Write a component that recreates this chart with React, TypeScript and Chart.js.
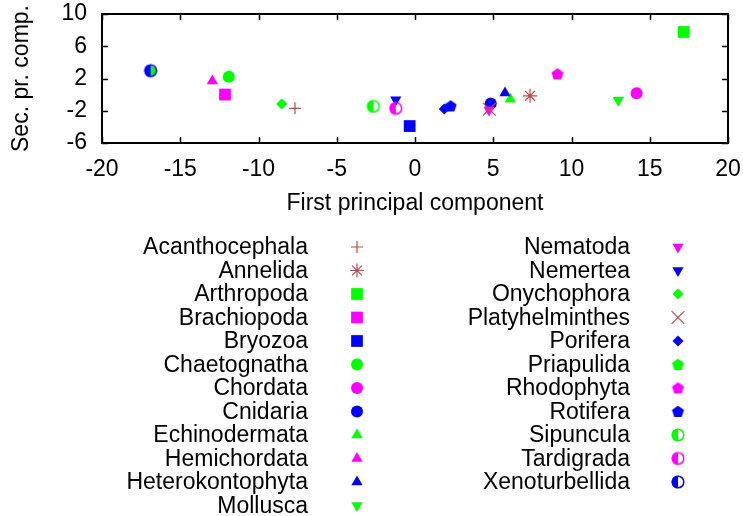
import React, { useEffect, useRef } from 'react';
import { Chart, registerables } from 'chart.js';
import { drawPoint } from 'chart.js/helpers';

Chart.register(...registerables);

const phyla = [
  'Acanthocephala', 'Annelida', 'Arthropoda', 'Brachiopoda', 'Bryozoa', 'Chaetognatha',
  'Chordata', 'Cnidaria', 'Echinodermata', 'Hemichordata', 'Heterokontophyta', 'Mollusca',
  'Nematoda', 'Nemertea', 'Onychophora', 'Platyhelminthes', 'Porifera', 'Priapulida',
  'Rhodophyta', 'Rotifera', 'Sipuncula', 'Tardigrada', 'Xenoturbellida',
];
const firstComponent = [
  -7.67, 7.35, 17.17, -12.14, -0.34, -11.9,
  14.16, 4.84, 6.09, -12.95, 5.75, 12.99,
  4.73, -1.23, -8.52, 4.75, 1.87, -16.89,
  9.1, 2.28, -2.66, -1.23, -16.89,
];
const secondComponent = [
  -1.7, -0.15, 7.77, 0.0, -3.9, 2.22,
  0.16, -1.1, -0.58, 1.69, 0.21, -0.71,
  -1.9, -0.63, -1.17, -1.82, -1.79, 2.97,
  2.56, -1.41, -1.45, -1.7, 2.97,
];
const markerColors = [
  'red', 'red', 'green', 'magenta', 'blue', 'green',
  'magenta', 'blue', 'green', 'magenta', 'blue', 'green',
  'magenta', 'blue', 'green', 'red', 'blue', 'green',
  'magenta', 'blue', 'green', 'magenta', 'blue',
];
const markerShapes = [
  'plus', 'asterisk', 'square', 'square', 'square', 'circle',
  'circle', 'circle', 'triangle', 'triangle', 'triangle', 'triangleDown',
  'triangleDown', 'triangleDown', 'diamond', 'x', 'diamond', 'pentagon',
  'pentagon', 'pentagon', 'halfCircle', 'halfCircle', 'halfCircle',
];
const xTickValues = [-20, -15, -10, -5, 0, 5, 10, 15, 20];
const yTickValues = [-6, -2, 2, 6, 10];

const PALETTE: Record<string, string> = {
  red: '#c04848',
  green: '#00ff00',
  magenta: '#ff00ff',
  blue: '#0000ff',
};
const FONT = '"Liberation Sans", Arial, sans-serif';
const FSIZE = 23;

function makePentagon(color: string, r: number) {
  const c = document.createElement('canvas');
  const s = Math.ceil(r * 2 + 2);
  c.width = s; c.height = s;
  const g = c.getContext('2d')!;
  g.fillStyle = color;
  g.beginPath();
  for (let k = 0; k < 5; k++) {
    const a = -Math.PI / 2 + (k * 2 * Math.PI) / 5;
    g.lineTo(s / 2 + r * Math.cos(a), s / 2 + 0.5 + r * Math.sin(a));
  }
  g.closePath();
  g.fill();
  return c;
}

function makeHalfCircle(color: string, r: number) {
  const c = document.createElement('canvas');
  const s = Math.ceil(r * 2 + 3);
  c.width = s; c.height = s;
  const g = c.getContext('2d')!;
  const cx = s / 2, cy = s / 2;
  g.fillStyle = color;
  g.beginPath();
  g.arc(cx, cy, r, Math.PI / 2, (3 * Math.PI) / 2);
  g.closePath();
  g.fill();
  g.beginPath();
  g.arc(cx, cy, r - 0.5, 0, Math.PI * 2);
  g.lineWidth = 1.5;
  g.strokeStyle = color;
  g.stroke();
  return c;
}

function markerStyle(shape: string, color: string) {
  switch (shape) {
    case 'plus': return { pointStyle: 'cross', radius: 6, rotation: 0, border: 1.2 };
    case 'asterisk': return { pointStyle: 'star', radius: 7, rotation: 0, border: 1.2 };
    case 'x': return { pointStyle: 'crossRot', radius: 9, rotation: 0, border: 1.2 };
    case 'square': return { pointStyle: 'rect', radius: 8.3, rotation: 0, border: 0 };
    case 'circle': return { pointStyle: 'circle', radius: 6, rotation: 0, border: 0 };
    case 'triangle': return { pointStyle: 'triangle', radius: 6.5, rotation: 0, border: 0 };
    case 'triangleDown': return { pointStyle: 'triangle', radius: 6.5, rotation: 180, border: 0 };
    case 'diamond': return { pointStyle: 'rectRot', radius: 5.5, rotation: 0, border: 0 };
    case 'pentagon': return { pointStyle: makePentagon(color, 6.3), radius: 6, rotation: 0, border: 0 };
    default: return { pointStyle: makeHalfCircle(color, 6.3), radius: 6, rotation: 0, border: 0 };
  }
}

const framePlugin = {
  id: 'gpFrame',
  beforeDatasetsDraw(chart: any) {
    const { ctx, chartArea: a, scales } = chart;
    ctx.save();
    ctx.strokeStyle = '#000';
    ctx.lineWidth = 1.5;
    const t = 6;
    ctx.beginPath();
    xTickValues.forEach((v) => {
      const px = Math.round(scales.x.getPixelForValue(v)) + 0.5;
      ctx.moveTo(px, a.bottom); ctx.lineTo(px, a.bottom - t);
      ctx.moveTo(px, a.top); ctx.lineTo(px, a.top + t);
    });
    yTickValues.forEach((v) => {
      const py = Math.round(scales.y.getPixelForValue(v)) + 0.5;
      ctx.moveTo(a.left, py); ctx.lineTo(a.left + t, py);
      ctx.moveTo(a.right, py); ctx.lineTo(a.right - t, py);
    });
    ctx.stroke();
    ctx.lineWidth = 2;
    ctx.strokeRect(a.left, a.top, a.right - a.left, a.bottom - a.top);
    ctx.restore();
  },
};

const legendPlugin = {
  id: 'gpLegend',
  afterDraw(chart: any) {
    const ctx = chart.ctx;
    ctx.save();
    chart.data.datasets.forEach((ds: any, i: number) => {
      const col = i < 12 ? 0 : 1;
      const row = i < 12 ? i : i - 12;
      const y = 247 + row * 23.5;
      const tx = col === 0 ? 308 : 630;
      const mx = col === 0 ? 357 : 678;
      ctx.font = `${FSIZE}px ${FONT}`;
      ctx.textAlign = 'right';
      ctx.textBaseline = 'middle';
      ctx.fillStyle = '#000';
      ctx.fillText(ds.label, tx, y + 1);
      ctx.fillStyle = ds.pointBackgroundColor;
      ctx.strokeStyle = ds.pointBorderColor;
      ctx.lineWidth = ds.pointBorderWidth;
      drawPoint(ctx, {
        pointStyle: ds.pointStyle,
        radius: ds.pointRadius,
        rotation: ds.pointRotation,
        borderWidth: ds.pointBorderWidth,
      } as any, mx, y);
    });
    ctx.restore();
  },
};

export default function App() {
  const ref = useRef<HTMLCanvasElement>(null);
  useEffect(() => {
    const datasets = phyla.map((name, i) => {
      const color = PALETTE[markerColors[i]];
      const m = markerStyle(markerShapes[i], color);
      const isLine = m.border > 0;
      return {
        label: name,
        data: [{ x: firstComponent[i], y: secondComponent[i] }],
        pointStyle: m.pointStyle as any,
        pointRadius: m.radius,
        pointHoverRadius: m.radius,
        pointRotation: m.rotation,
        pointBackgroundColor: isLine ? 'rgba(0,0,0,0)' : color,
        pointBorderColor: color,
        pointBorderWidth: m.border,
        order: phyla.length - i,
      };
    });
    const chart = new Chart(ref.current!, {
      type: 'scatter',
      data: { datasets },
      plugins: [framePlugin, legendPlugin],
      options: {
        responsive: false,
        animation: false,
        layout: { padding: { top: 14, right: 15, bottom: 293, left: 0 } },
        plugins: { legend: { display: false }, tooltip: { enabled: false } },
        scales: {
          x: {
            type: 'linear',
            min: -20,
            max: 20,
            afterFit: (s: any) => { s.height = 80; s.paddingLeft = 0; s.paddingRight = 0; },
            afterBuildTicks: (s: any) => { s.ticks = xTickValues.map((v) => ({ value: v })); },
            grid: { display: false, drawTicks: false },
            border: { display: false },
            ticks: { color: '#000', padding: 13, autoSkip: false, font: { family: FONT, size: FSIZE }, maxRotation: 0 },
            title: {
              display: true,
              text: 'First principal component',
              color: '#000',
              font: { family: FONT, size: FSIZE },
              padding: { top: 0, bottom: 6 },
            },
          },
          y: {
            type: 'linear',
            min: -6,
            max: 10,
            afterFit: (s: any) => { s.width = 102; s.paddingTop = 0; s.paddingBottom = 0; },
            afterBuildTicks: (s: any) => { s.ticks = yTickValues.map((v) => ({ value: v })); },
            grid: { display: false, drawTicks: false },
            border: { display: false },
            ticks: { color: '#000', padding: 15, autoSkip: false, font: { family: FONT, size: FSIZE } },
            title: {
              display: true,
              text: 'Sec. pr. comp.',
              color: '#000',
              font: { family: FONT, size: FSIZE },
              padding: { top: 8, bottom: 0 },
            },
          },
        },
      },
    });
    return () => chart.destroy();
  }, []);
  return (
    <div style={{ position: 'fixed', left: 0, top: 0, width: 743, height: 516, background: '#fff' }}>
      <canvas ref={ref} width={743} height={516} style={{ width: 743, height: 516, display: 'block' }} />
    </div>
  );
}
